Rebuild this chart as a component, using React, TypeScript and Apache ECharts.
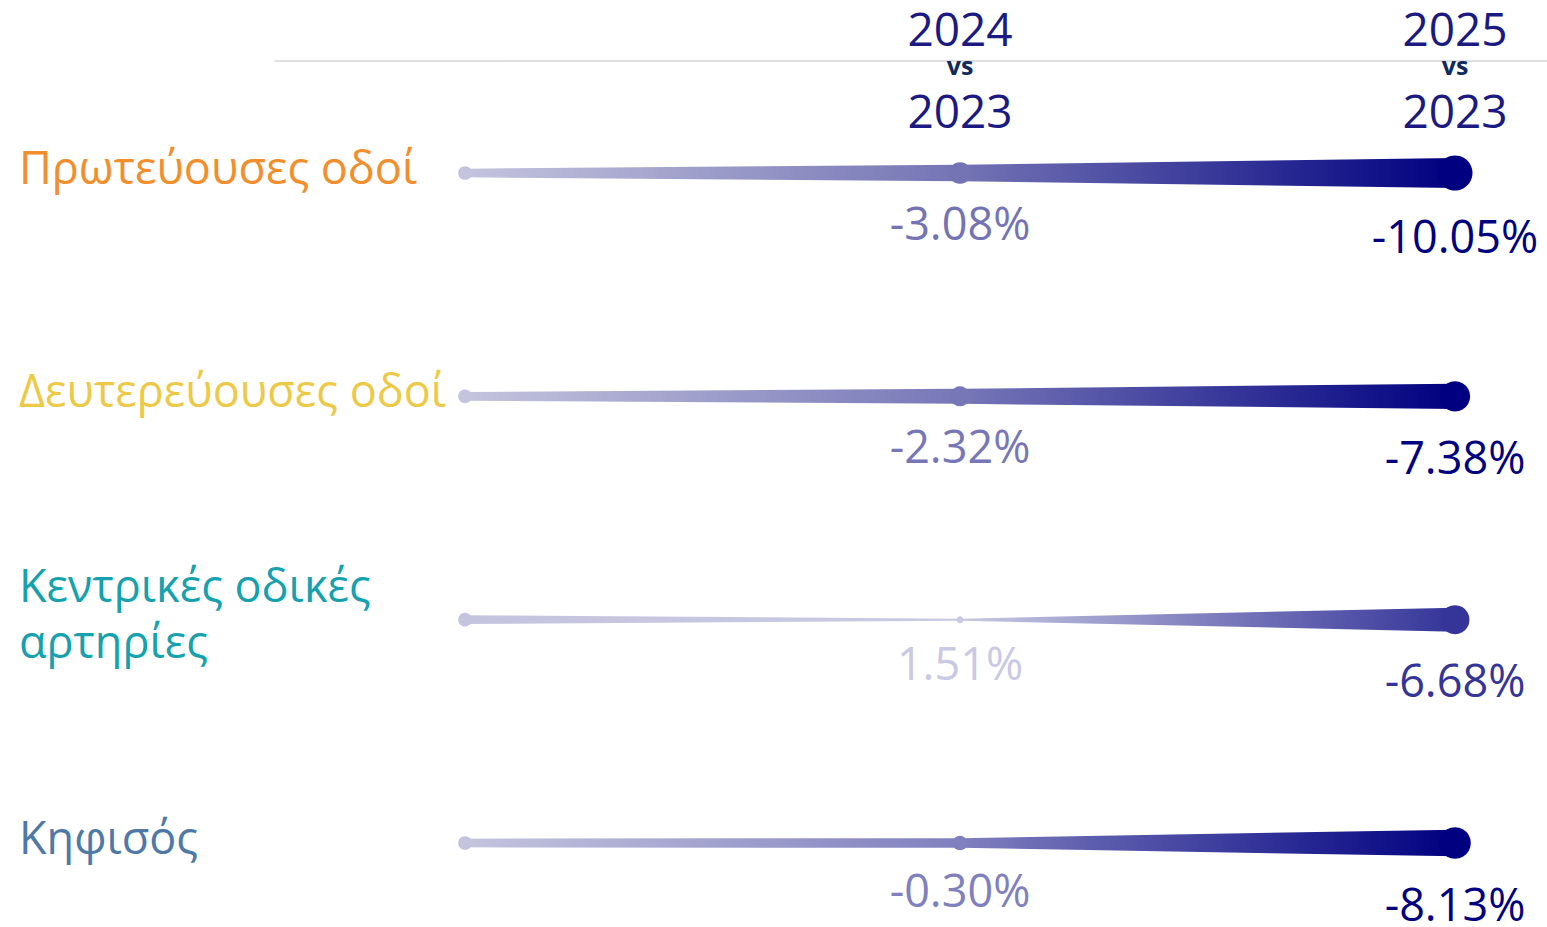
import React, { useEffect, useRef } from 'react';
import * as echarts from 'echarts';

// ---------- data ----------
const categories = ['Πρωτεύουσες οδοί', 'Δευτερεύουσες οδοί', 'Κεντρικές οδικές\nαρτηρίες', 'Κηφισός'];
const categoryColors = ['#F28E2B', '#EDC948', '#16A1AE', '#4E79A7'];
const periods = ['2023', '2024 vs 2023', '2025 vs 2023'];
const headerTop = ['', '2024', '2025'];
const headerBottom = ['', '2023', '2023'];
const baseline2023 = [0, 0, 0, 0];
const change2024 = [-3.08, -2.32, 1.51, -0.3];
const change2025 = [-10.05, -7.38, -6.68, -8.13];

// colour scale (value -> colour)
const colorStops: [number, string][] = [
  [1.6, '#c9c9e3'],
  [0, '#c4c4de'],
  [-0.3, '#8080bf'],
  [-3.1, '#7474b5'],
  [-6.0, '#6c6cb4'],
  [-7.3, '#000080'],
];

const FONT = '"Open Sans", "Noto Sans", sans-serif';

function hexToRgb(h: string) {
  const n = parseInt(h.slice(1), 16);
  return [(n >> 16) & 255, (n >> 8) & 255, n & 255];
}
function colorFor(v: number): string {
  if (v >= colorStops[0][0]) return colorStops[0][1];
  const last = colorStops[colorStops.length - 1];
  if (v <= last[0]) return last[1];
  for (let i = 0; i < colorStops.length - 1; i++) {
    const [a, ca] = colorStops[i];
    const [b, cb] = colorStops[i + 1];
    if (v <= a && v >= b) {
      const t = (a - v) / (a - b);
      const A = hexToRgb(ca);
      const B = hexToRgb(cb);
      const c = A.map((x, k) => Math.round(x + (B[k] - x) * t));
      return `rgb(${c[0]},${c[1]},${c[2]})`;
    }
  }
  return last[1];
}

const allValues = [...baseline2023, ...change2024, ...change2025];
const vMax = Math.max(...allValues);
const vMin = Math.min(...allValues);
function widthFor(v: number): number {
  const t = (vMax - v) / (vMax - vMin);
  return 2 + 28 * Math.pow(Math.max(0, t), 0.7);
}
function fmt(v: number) {
  return v.toFixed(2) + '%';
}

export default function App() {
  const ref = useRef<HTMLDivElement>(null);
  useEffect(() => {
    if (!ref.current) return;
    const chart = echarts.init(ref.current, undefined, { renderer: 'svg' });

    const rich: any = {};
    categoryColors.forEach((c, i) => {
      rich['c' + i] = { color: c, fontSize: 45, lineHeight: 56, fontFamily: FONT };
    });

    const option: any = {
      animation: false,
      backgroundColor: '#ffffff',
      grid: { left: 275, right: 0, top: 173, bottom: 84, outerBoundsMode: 'none' },
      xAxis: {
        type: 'value',
        position: 'top',
        offset: 112,
        min: -190 / 495,
        max: 2 + 92 / 495,
        axisLine: { show: true, lineStyle: { color: '#d4d4d4', width: 1.5 } },
        axisTick: { show: false },
        splitLine: { show: false },
        axisLabel: {
          customValues: [1, 2],
          margin: -12,
          verticalAlign: 'middle',
          formatter: (v: number) => {
            const i = Math.round(v);
            if (Math.abs(v - i) > 1e-6 || !headerTop[i]) return '';
            return `{a|${headerTop[i]}}\n{b|vs}\n{c|${headerBottom[i]}}`;
          },
          rich: {
            a: { fontSize: 46, lineHeight: 40, color: '#1a1a82', fontFamily: FONT },
            b: { fontSize: 25, lineHeight: 34, color: '#0f2a5c', fontWeight: 'bold', fontFamily: FONT },
            c: { fontSize: 46, lineHeight: 56, color: '#1a1a82', fontFamily: FONT },
          },
        },
      },
      yAxis: {
        type: 'category',
        data: categories,
        inverse: true,
        boundaryGap: false,
        axisLine: { show: false },
        axisTick: { show: false },
        splitLine: { show: false },
        axisLabel: {
          align: 'left',
          margin: 256,
          padding: [0, 0, 14, 0],
          formatter: (v: string, i: number) => `{c${i}|${v}}`,
          rich,
        },
      },
      series: [
        {
          type: 'custom',
          encode: { x: 1, y: 0 },
          data: categories.map((_, i) => [i, baseline2023[i], change2024[i], change2025[i]]),
          renderItem: (params: any, api: any) => {
            const row = api.value(0);
            const vals = [api.value(1), api.value(2), api.value(3)];
            const pts = periods.map((_, k) => api.coord([k, row]));
            const y = pts[0][1];
            const ws = vals.map(widthFor);
            const cols = vals.map(colorFor);
            const x0 = pts[0][0];
            const x2 = pts[2][0];
            const span = x2 - x0;
            const poly = [
              [pts[0][0], y - ws[0] / 2],
              [pts[1][0], y - ws[1] / 2],
              [pts[2][0], y - ws[2] / 2],
              [pts[2][0], y + ws[2] / 2],
              [pts[1][0], y + ws[1] / 2],
              [pts[0][0], y + ws[0] / 2],
            ];
            const grad = new echarts.graphic.LinearGradient(0, 0, 1, 0, [
              { offset: 0, color: cols[0] },
              { offset: (pts[1][0] - x0) / span, color: cols[1] },
              { offset: 1, color: cols[2] },
            ]);
            const children: any[] = [
              { type: 'polygon', shape: { points: poly }, style: { fill: grad } },
            ];
            pts.forEach((p: number[], k: number) => {
              const r = (ws[k] + 5) / 2;
              children.push({ type: 'circle', shape: { cx: p[0], cy: y, r }, style: { fill: cols[k] } });
              if (k > 0) {
                children.push({
                  type: 'text',
                  x: p[0],
                  y: y + r + (k === 1 ? 39 : 45),
                  style: {
                    text: fmt(vals[k]),
                    fill: cols[k],
                    fontSize: 45,
                    lineHeight: 40,
                    fontFamily: FONT,
                    align: 'center',
                    verticalAlign: 'middle',
                    textAlign: 'center',
                    textVerticalAlign: 'middle',
                  },
                });
              }
            });
            return { type: 'group', children };
          },
        },
      ],
    };
    chart.setOption(option);
    return () => chart.dispose();
  }, []);
  return (
    <div
      ref={ref}
      style={{ position: 'absolute', left: 0, top: 0, width: 1547, height: 927, background: '#fff' }}
    />
  );
}
